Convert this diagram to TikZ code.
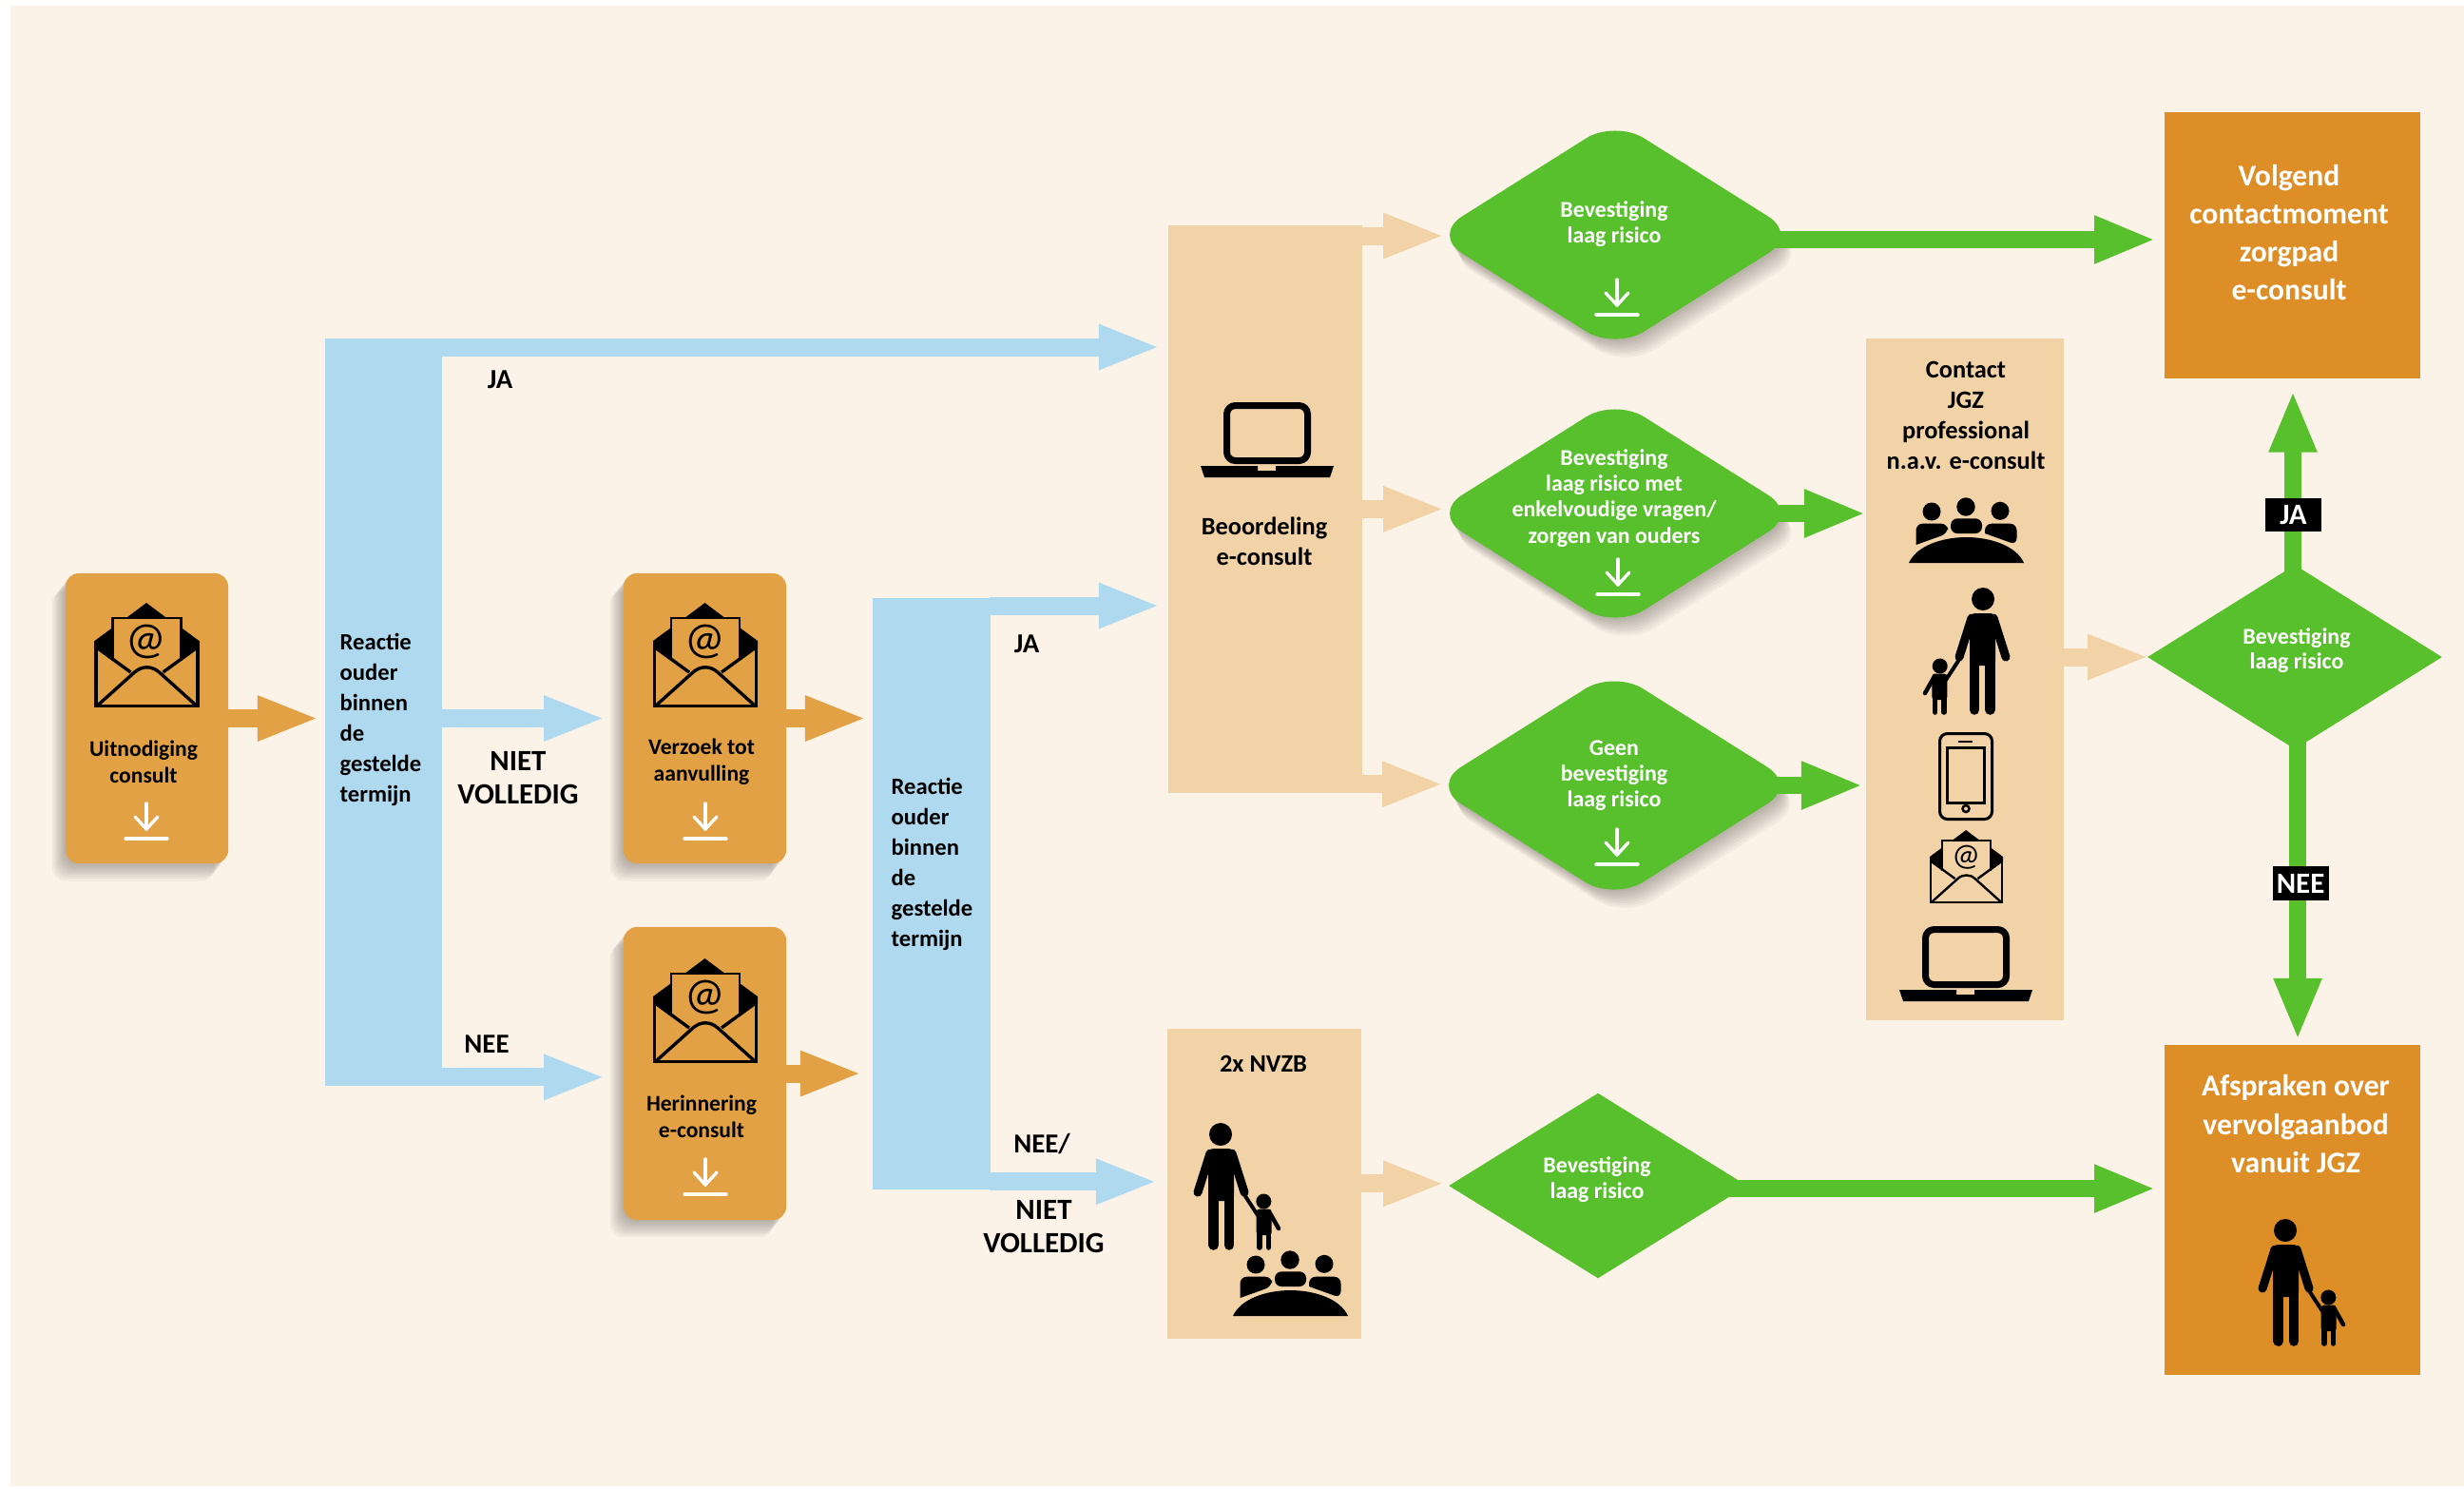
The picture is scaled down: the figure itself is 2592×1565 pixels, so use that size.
\documentclass[tikz,border=0pt]{standalone}
\usepackage{fontspec}
\setmainfont{Carlito}
\usetikzlibrary{arrows.meta,shadows,shapes.geometric}
\definecolor{paperbg}{HTML}{FCF3E8}
\definecolor{boxorange}{HTML}{E3A145}
\definecolor{boxdark}{HTML}{DD8E26}
\definecolor{peach}{HTML}{F2D2A7}
\definecolor{barblue}{HTML}{AFD9EF}
\definecolor{leafgreen}{HTML}{58BF2D}
\tikzset{
  softlayer/.style 2 args={general shadow={shadow xshift=#1,shadow yshift=#2,fill=black,opacity=.036}},
  softshadow/.style 2 args={
    softlayer={8*#1}{8*#2},softlayer={7*#1}{7*#2},softlayer={6*#1}{6*#2},softlayer={5*#1}{5*#2},
    softlayer={4*#1}{4*#2},softlayer={3*#1}{3*#2},softlayer={2*#1}{2*#2},softlayer={1*#1}{1*#2}},
  mailbox/.style={fill=boxorange,rounded corners=.14cm,minimum width=1.71cm,inner sep=0,softshadow={-.018cm}{-.023cm}},
  peachbox/.style={fill=peach,anchor=north west,inner sep=0},
  barbox/.style={fill=barblue,anchor=north west,inner sep=0},
  darkbox/.style={fill=boxdark,anchor=north west,inner sep=0,minimum width=2.69cm},
  riskdiamond/.style={diamond,fill=leafgreen,inner sep=0,minimum width=3.84cm,minimum height=2.42cm,rounded corners=.36cm,softshadow={.014cm}{-.024cm}},
  flatdiamond/.style={diamond,fill=leafgreen,inner sep=0},
  blocktext/.style={font=\bfseries\fontsize{6.7}{8}\selectfont,align=center,inner sep=0},
  risktext/.style={font=\bfseries\fontsize{6.8}{7.7}\selectfont,align=center,text=white,inner sep=0},
  bartext/.style={font=\bfseries\fontsize{7}{9.1}\selectfont,align=left,anchor=west,inner sep=0},
  bigtext/.style={font=\bfseries\fontsize{9}{11.4}\selectfont,align=center,text=white,inner sep=0},
  headtext/.style={font=\bfseries\fontsize{7.5}{9.1}\selectfont,align=center,inner sep=0},
  choicetext/.style={font=\bfseries\fontsize{8.2}{10}\selectfont,align=center,inner sep=0},
  choicelarge/.style={font=\bfseries\fontsize{8.8}{10}\selectfont,align=center,inner sep=0},
  blacktag/.style={font=\bfseries\fontsize{8.8}{9}\selectfont,fill=black,text=white,minimum width=.59cm,minimum height=.355cm,inner sep=0},
  blockarrow/.style={line width=.19cm,shorten <=-.01cm,-{Triangle[length=.65cm,width=.43cm]}},
  orangearrow/.style={blockarrow,draw=boxorange},
  bluearrow/.style={blockarrow,draw=barblue},
  peacharrow/.style={blockarrow,draw=peach},
  greenarrow/.style={line width=.18cm,shorten <=-.01cm,-{Triangle[length=.65cm,width=.46cm]},draw=leafgreen}
}
\newcommand{\mailicon}[4]{
  \begin{scope}[shift={(#2,#3)},scale=#4]
    \fill (54.5,0) -- (34.5,15) -- (74.5,15) -- cycle;
    \fill (0,40) -- (19,26) -- (19,61) -- (0,47) -- cycle;
    \fill (110,40) -- (91,26) -- (91,61) -- (110,47) -- cycle;
    \draw[line width=.026cm*#4] (19,61) -- (19,16) -- (91,16) -- (91,61);
    \node[font=\fontsize{13.5}{15}\selectfont,inner sep=0,transform shape] (#1) at (54.5,41) {@};
    \draw[line width=.034cm*#4] (1.5,40) -- (1.5,108.5) -- (108.5,108.5) -- (108.5,40);
    \draw[line width=.034cm*#4] (1,46) -- (38,73);
    \draw[line width=.034cm*#4] (109,46) -- (72,73);
    \draw[line width=.034cm*#4] (3,108) -- (42,73) .. controls (50,66) and (60,66) .. (68,73) -- (107,108);
  \end{scope}
}
\newcommand{\savearrow}[2]{
  \begin{scope}[shift={(#1,#2)},draw=white,line width=.033cm,line cap=round,line join=round]
    \draw (0,0) -- (0,27);
    \draw (-12,14) -- (0,27) -- (12,14);
    \draw (-22,37) -- (22,37);
  \end{scope}
}
\newcommand{\laptopicon}[2]{
  \begin{scope}[shift={(#1,#2)}]
    \draw[line width=.07cm,rounded corners=.09cm] (27.5,3.5) rectangle (112.5,61.5);
    \fill (0,67) -- (60,67) -- (60,72) -- (79,72) -- (79,67) -- (140,67) -- (136,79) -- (4,79) -- cycle;
  \end{scope}
}
\newcommand{\familyicon}[3]{
  \begin{scope}[shift={(#1,#2)},xscale=#3]
    \fill (0,0) circle (12);
    \fill[rounded corners=.05cm] (-13,15) rectangle (14,70);
    \draw[line width=.105cm,line cap=round] (-7.3,60) -- (-7.3,116.5);
    \draw[line width=.105cm,line cap=round] (9,60) -- (9,116.5);
    \draw[line width=.09cm,line cap=round] (-11,20) -- (-24,61);
    \draw[line width=.09cm,line cap=round] (12,20) -- (25,61);
    \fill (45.3,70.5) circle (8);
    \fill[rounded corners=.03cm] (37.7,78.5) rectangle (53.7,106);
    \draw[line width=.055cm,line cap=round] (41,100) -- (41,119);
    \draw[line width=.055cm,line cap=round] (50.5,100) -- (50.5,119);
    \draw[line width=.04cm,line cap=round] (26,65) -- (39,85);
    \draw[line width=.045cm,line cap=round] (52,83) -- (61,99);
  \end{scope}
}
\newcommand{\groupicon}[2]{
  \begin{scope}[shift={(#1,#2)}]
    \fill (0,0) .. controls (8,-18) and (35,-27) .. (60.5,-27) .. controls (86,-27) and (113,-18) .. (121,0) -- cycle;
    \fill[rounded corners=.07cm] (7.5,-19) -- (7.5,-41.3) -- (41,-41.3) -- (41,-31) [sharp corners] -- (7.5,-19) -- cycle;
    \fill[rounded corners=.07cm] (44,-31) -- (44,-46.7) -- (77,-46.7) -- (77,-31) -- cycle;
    \fill[rounded corners=.07cm] (80,-31) -- (80,-41.3) -- (113.5,-41.3) -- (113.5,-19) [sharp corners] -- (80,-31) -- cycle;
    \fill (24,-54) circle (9.5);
    \fill (60,-59) circle (9.7);
    \fill (96,-54.7) circle (9.5);
  \end{scope}
}
\begin{document}
\begin{tikzpicture}[x=.01cm,y=-.01cm]
  \useasboundingbox (0,0) rectangle (2592,1565);
  \fill[paperbg] (11,6) rectangle (2592,1563);

  %%%%% LEFT BOXES %%%%%
  \node[mailbox,minimum height=3.05cm] (uitnodiging) at (154.5,755.5) {};
  \node[mailbox,minimum height=3.05cm] (verzoek) at (741.5,755.5) {};
  \node[mailbox,minimum height=3.08cm] (herinnering) at (741.5,1129) {};
  \node[barbox,minimum width=1.23cm,minimum height=7.86cm] (reactA) at (341,355) {};
  \node[barbox,minimum width=1.24cm,minimum height=6.22cm] (reactB) at (917,628) {};

  \mailicon{mailA}{99.5}{634}{1}
  \mailicon{mailB}{687}{634}{1}
  \mailicon{mailC}{687}{1008}{1}
  \savearrow{154}{845}
  \savearrow{742}{845}
  \savearrow{742}{1219}
  \node[blocktext] (uitnodigingtext) at (151,801) {Uitnodiging\\consult};
  \node[blocktext] (verzoektext) at (738,801) {Verzoek tot\\aanvulling};
  \node[blocktext] (herinneringtext) at (738,1174.5) {Herinnering\\e-consult};
  \node[bartext] (reactAtext) at (357,757) {Reactie\\ouder\\binnen\\de\\gestelde\\termijn};
  \node[bartext] (reactBtext) at (937,909) {Reactie\\ouder\\binnen\\de\\gestelde\\termijn};

  %%%%% MIDDLE BOXES %%%%%
  \node[peachbox,minimum width=2.04cm,minimum height=5.97cm] (beoordeling) at (1228,236) {};
  \node[peachbox,minimum width=2.04cm,minimum height=3.26cm] (nvzb) at (1227,1081) {};
  \node[peachbox,minimum width=2.08cm,minimum height=7.17cm] (contact) at (1962,355) {};
  \laptopicon{1263}{423}
  \node[headtext] (beoordelingtext) at (1330,569.5) {Beoordeling\\e-consult};
  \node[headtext] (nvzbtext) at (1329,1119) {2x NVZB};
  \familyicon{1284}{1193}{1}
  \groupicon{1297}{1384}
  \node[headtext] (contacttext) at (2068,436.5) {Contact\\JGZ\\professional\\n.a.v. e-consult};
  \groupicon{2008}{592}
  \familyicon{2086}{630}{-1}
  \draw[line width=.03cm,rounded corners=.08cm] (2040.5,771.5) rectangle (2095.5,861.5);
  \draw[line width=.03cm] (2048,786) rectangle (2087,844);
  \draw[line width=.025cm] (2060,780) -- (2075,780);
  \draw[line width=.025cm] (2068,850.5) circle (3.5);
  \mailicon{mailD}{2030}{873}{.7}
  \laptopicon{1998}{974}

  %%%%% DIAMONDS %%%%%
  \node[riskdiamond] (riskA) at (1699,247) {};
  \node[riskdiamond] (riskB) at (1699,540) {};
  \node[riskdiamond] (riskC) at (1698,826) {};
  \node[flatdiamond,minimum width=3.14cm,minimum height=1.95cm] (riskD) at (1681,1247) {};
  \node[flatdiamond,minimum width=3.1cm,minimum height=1.94cm] (riskE) at (2414,691) {};
  \node[risktext] (riskAtext) at (1698,236) {Bevestiging\\laag risico};
  \node[risktext] (riskBtext) at (1698,524) {Bevestiging\\laag risico met\\enkelvoudige vragen/\\zorgen van ouders};
  \node[risktext] (riskCtext) at (1698,816) {Geen\\bevestiging\\laag risico};
  \node[risktext] (riskDtext) at (1680,1241) {Bevestiging\\laag risico};
  \node[risktext,font=\bfseries\fontsize{6.8}{7.2}\selectfont] (riskEtext) at (2416,684) {Bevestiging\\laag risico};
  \savearrow{1701}{294}
  \savearrow{1702}{588}
  \savearrow{1701}{872}

  %%%%% RIGHT BOXES %%%%%
  \node[darkbox,minimum height=2.8cm] (volgend) at (2276,117) {};
  \node[darkbox,minimum height=3.47cm] (afspraken) at (2276,1098) {};
  \node[bigtext] (volgendtext) at (2408,244.5) {Volgend\\contactmoment\\zorgpad\\e-consult};
  \node[bigtext] (afsprakentext) at (2415,1182) {Afspraken over\\vervolgaanbod\\vanuit JGZ};
  \familyicon{2404}{1294}{1}

  %%%%% ARROWS %%%%%
  \draw[orangearrow,shorten >=.05cm] (uitnodiging.east) -- (uitnodiging.east -| reactA.west);
  \draw[orangearrow,shorten >=.05cm] (verzoek.east) -- (verzoek.east -| reactB.west);
  \draw[orangearrow,shorten >=.1cm] (herinnering.east) -- (herinnering.east -| reactB.west);

  \coordinate (jaA) at ([yshift=-.1cm]reactA.north east);
  \coordinate (nietA) at (reactA.east |- verzoek.west);
  \coordinate (neeA) at ([yshift=.1cm]reactA.south east);
  \coordinate (jaB) at ([yshift=-.09cm]reactB.north east);
  \coordinate (neeB) at ([yshift=.09cm]reactB.south east);
  \draw[bluearrow,shorten >=.07cm] (jaA) -- (jaA -| beoordeling.west);
  \draw[bluearrow,shorten >=.18cm] (nietA) -- (nietA -| verzoek.west);
  \draw[bluearrow,shorten >=.18cm] (neeA) -- (neeA -| herinnering.west);
  \draw[bluearrow,shorten >=.07cm] (jaB) -- (jaB -| beoordeling.west);
  \draw[bluearrow,shorten >=.09cm] (neeB) -- (neeB -| nvzb.west);

  \coordinate (beoorA) at ([yshift=-.12cm]beoordeling.north east);
  \coordinate (beoorC) at ([yshift=.1cm]beoordeling.south east);
  \coordinate (contactout) at (contact.east |- riskE.west);
  \draw[peacharrow,shorten >=-.14cm] (beoorA) -- (beoorA -| riskA.west);
  \draw[peacharrow,shorten >=-.14cm] (beoordeling.east) -- (beoordeling.east -| riskB.west);
  \draw[peacharrow,shorten >=-.14cm] (beoorC) -- (beoorC -| riskC.west);
  \draw[peacharrow,shorten >=.03cm] (nvzb.east) -- (nvzb.east -| riskD.west);
  \draw[peacharrow,shorten >=-.03cm] (contactout) -- (riskE.west);

  \coordinate (riskAout) at ([yshift=-.05cm]riskA.east);
  \coordinate (riskDout) at ([yshift=-.03cm]riskD.east);
  \coordinate (riskEup) at ([xshift=-.02cm]riskE.north);
  \coordinate (riskEdown) at ([xshift=.03cm]riskE.south);
  \draw[greenarrow,shorten <=-.28cm,shorten >=.08cm] (riskAout) -- (riskAout -| volgend.west);
  \draw[greenarrow,shorten <=-.28cm,shorten >=-.01cm] (riskB.east) -- (riskB.east -| contact.west);
  \draw[greenarrow,shorten <=-.28cm,shorten >=.02cm] (riskC.east) -- (riskC.east -| contact.west);
  \draw[greenarrow,shorten <=-.2cm,shorten >=.08cm] (riskDout) -- (riskDout -| afspraken.west);
  \draw[greenarrow,shorten <=-.2cm,shorten >=.12cm] (riskEup) -- (riskEup |- volgend.south);
  \draw[greenarrow,shorten <=-.2cm,shorten >=.04cm] (riskEdown) -- (riskEdown |- afspraken.north);

  %%%%% LABELS %%%%%
  \node[choicetext] (jaAlabel) at (526,399) {JA};
  \node[choicelarge] (nietAlabel) at (545,818) {NIET\\VOLLEDIG};
  \node[choicetext] (neeAlabel) at (512,1098) {NEE};
  \node[choicetext] (jaBlabel) at (1080,677) {JA};
  \node[choicetext] (neeBlabel) at (1096,1203) {NEE/};
  \node[choicelarge] (nietBlabel) at (1098,1290) {NIET\\VOLLEDIG};
  \node[blacktag] (jaCtag) at (2412.5,541.5) {JA};
  \node[blacktag] (neeCtag) at (2420,929) {NEE};
\end{tikzpicture}
\end{document}
